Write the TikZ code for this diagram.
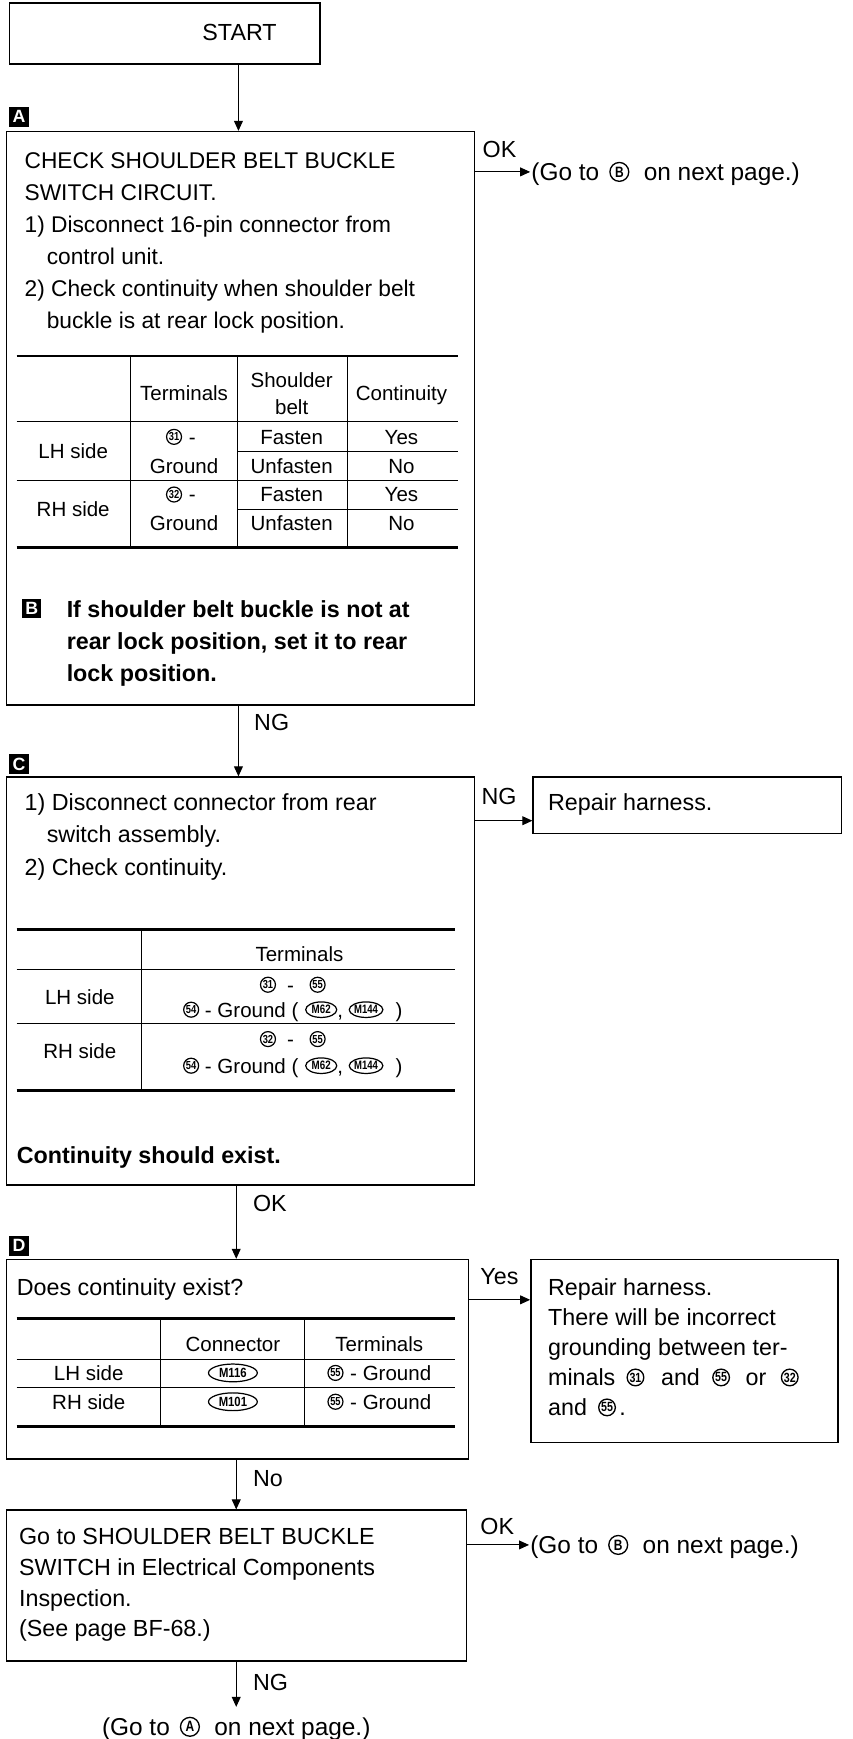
\documentclass[tikz,border=0pt]{standalone}
\usepackage{graphicx}
\usepackage{fontspec}
\setmainfont{Liberation Sans}
\usetikzlibrary{arrows.meta,shapes.geometric}
\newcommand\fn{\fontsize{21}{25}\selectfont}
\newcommand\fa{\fontsize{20.5}{25}\selectfont}
\newcommand\fg{\fontsize{22}{25}\selectfont}
\newcommand\ftab{\fontsize{18.5}{22}\selectfont}
\newcommand\fbd{\bfseries\fontsize{21}{25}\selectfont}
% circled number in tables
\newcommand\cn[1]{\tikz[baseline={([yshift=-6.6pt]cnx.center)}]\node[draw,circle,anchor=center,line width=1.1pt,inner sep=0pt,minimum size=13.5pt,text=black,font=\bfseries\fontsize{10.5}{10.5}\selectfont](cnx){\scalebox{0.8}[1]{#1}};}
% circled number in body text
\newcommand\cnb[1]{\tikz[baseline={([yshift=-7.5pt]cbx.center)}]\node[draw,circle,anchor=center,line width=1.2pt,inner sep=0pt,minimum size=15pt,text=black,font=\bfseries\fontsize{12}{12}\selectfont](cbx){\scalebox{0.8}[1]{#1}};}
% circled letter
\newcommand\cl[1]{\tikz[baseline={([yshift=-7.8pt]clx.center)}]\node[draw,circle,anchor=center,line width=1.2pt,inner sep=0pt,minimum size=17pt,text=black,font=\bfseries\fontsize{13.5}{13.5}\selectfont](clx){\scalebox{0.8}[1]{#1}};}
% oval connector mark: text, width, height, font size, horizontal scale
\newcommand\mc[5]{\tikz[baseline={([yshift=-6.6pt]mcx.center)}]\node[draw,ellipse,anchor=center,line width=1.1pt,inner sep=0pt,minimum height=#3,minimum width=#2,text=black,font=\bfseries\fontsize{#4}{#4}\selectfont](mcx){\scalebox{#5}[1]{#1}};}
\begin{document}
\begin{tikzpicture}[x=1pt,y=-1pt,
 box/.style={draw,line width=1.3pt,inner sep=0pt,anchor=north west},
 mk/.style={fill=black,text=white,inner sep=0pt,minimum size=18pt,anchor=north west,font=\bfseries\fontsize{16}{16}\selectfont},
 tx/.style={anchor=base west,inner sep=0pt,font=\fa},
 tc/.style={anchor=base west,inner sep=0pt,font=\fn},
 tg/.style={anchor=base west,inner sep=0pt,font=\fg},
 bd/.style={anchor=base west,inner sep=0pt,font=\fbd},
 tb/.style={anchor=base,inner sep=0pt,font=\ftab},
 thk/.style={line width=2.6pt},
 thn/.style={line width=0.9pt},
 arr/.style={line width=0.9pt,-{Triangle[length=9pt,width=8pt]}}]
\useasboundingbox (0,0) rectangle (769,1568);
\fill[white] (0,0) rectangle (769,1568);
% x positions of the vertical connectors
\coordinate (xa) at (215,0);
\coordinate (xb) at (213,0);
% START
\node[box,minimum width=280pt,minimum height=55pt] (start) at (8,2) {};
\node[anchor=base,inner sep=0pt,font=\fn] (startT) at (216,36.5) {START};
% ---------- A ----------
\node[mk] (mA) at (8,96) {A};
\node[box,minimum width=422pt,minimum height=517pt] (A) at (5,118) {};
\draw[arr] (start.south -| xa) -- (A.north -| xa);
\node[tx] (a1) at (22,151.5) {CHECK SHOULDER BELT BUCKLE};
\node[tx] (a2) at (22,180.5) {SWITCH CIRCUIT.};
\node[tx] (a3) at (22,209.5) {1) Disconnect 16-pin connector from};
\node[tx] (a4) at (42,238.5) {control unit.};
\node[tx] (a5) at (22,267.5) {2) Check continuity when shoulder belt};
\node[tx] (a6) at (42,296.5) {buckle is at rear lock position.};
\node[tc] (okA) at (435,142) {OK};
\coordinate (okAend) at (478,155);
\draw[arr] (A.east |- okAend) -- (okAend);
\node[tg] (gbA) at (479,162.8) {(Go to\hspace{9pt}\cl{B}\hspace{13pt}on next page.)};
% table A
\draw[thk] (15,321) -- (413,321);
\draw[thk] (15,494) -- (413,494);
\draw[thn] (118,321) -- (118,494) (214,321) -- (214,494) (313,321) -- (313,494);
\draw[line width=1.1pt] (15,380) -- (413,380);
\draw[thn] (214,407) -- (413,407) (15,433) -- (413,433) (214,459) -- (413,459);
\node[tb] (tA1) at (166,361.5) {Terminals};
\node[tb] (tA2) at (263,349.5) {Shoulder};
\node[tb] (tA3) at (263,373.5) {belt};
\node[tb] (tA4) at (362,361.5) {Continuity};
\node[tb] (tA5) at (66,413.5) {LH side};
\node[tb] (tA6) at (163,400.5) {\cn{31}\hspace{6pt}-};
\node[tb] (tA7) at (166,426.5) {Ground};
\node[tb] (tA8) at (263,400.5) {Fasten};
\node[tb] (tA9) at (362,400.5) {Yes};
\node[tb] (tA10) at (263,426.5) {Unfasten};
\node[tb] (tA11) at (362,426.5) {No};
\node[tb] (tA12) at (66,465.5) {RH side};
\node[tb] (tA13) at (163,452.5) {\cn{32}\hspace{6pt}-};
\node[tb] (tA14) at (166,478.5) {Ground};
\node[tb] (tA15) at (263,452.5) {Fasten};
\node[tb] (tA16) at (362,452.5) {Yes};
\node[tb] (tA17) at (263,478.5) {Unfasten};
\node[tb] (tA18) at (362,478.5) {No};
% B note
\node[mk,minimum size=17pt] (mB) at (20,540) {B};
\node[bd] (b1) at (60,556.5) {If shoulder belt buckle is not at};
\node[bd] (b2) at (60,585.5) {rear lock position, set it to rear};
\node[bd] (b3) at (60,614.5) {lock position.};
% ---------- C ----------
\node[mk] (mC) at (8,680) {C};
\node[box,minimum width=422pt,minimum height=368pt] (C) at (5,700) {};
\draw[arr] (A.south -| xa) -- (C.north -| xa);
\node[tc] (ngA) at (229,658.5) {NG};
\node[tc] (c1) at (22,730.5) {1) Disconnect connector from rear};
\node[tc] (c2) at (42,759.5) {switch assembly.};
\node[tc] (c3) at (22,789.5) {2) Check continuity.};
\node[box,minimum width=278pt,minimum height=51pt] (rep1) at (480,700) {};
\node[tc] (r1) at (494,730.5) {Repair harness.};
\node[tc] (ngC) at (434,725.5) {NG};
\coordinate (yc) at (0,740);
\draw[arr] (C.east |- yc) -- (rep1.west |- yc);
% table C
\draw[thk] (15,838) -- (410,838);
\draw[thk] (15,983) -- (410,983);
\draw[thn] (128,838) -- (128,983);
\draw[thn] (15,874) -- (410,874) (15,923) -- (410,923);
\node[tb] (tC1) at (270,866.5) {Terminals};
\node[tb] (tC2) at (72,905.5) {LH side};
\node[tb] (tC3) at (264,894.5) {\cn{31}\hspace{10pt}-\hspace{14pt}\cn{55}};
\node[tb] (tC4) at (264,917) {\cn{54} - Ground (\hspace{6pt}\mc{M62}{28pt}{14pt}{11}{0.8},\hspace{5pt}\mc{M144}{28pt}{14pt}{11}{0.78}\hspace{11pt})};
\node[tb] (tC5) at (72,954.5) {RH side};
\node[tb] (tC6) at (264,943.5) {\cn{32}\hspace{10pt}-\hspace{14pt}\cn{55}};
\node[tb] (tC7) at (264,967.5) {\cn{54} - Ground (\hspace{6pt}\mc{M62}{28pt}{14pt}{11}{0.8},\hspace{5pt}\mc{M144}{28pt}{14pt}{11}{0.78}\hspace{11pt})};
\node[bd] (c4) at (15,1049.5) {Continuity should exist.};
% ---------- D ----------
\node[mk] (mD) at (8,1114) {D};
\node[box,minimum width=417pt,minimum height=180pt] (D) at (5,1135) {};
\draw[arr] (C.south -| xb) -- (D.north -| xb);
\node[tc] (okC) at (228,1092.5) {OK};
\node[tc] (d1) at (15,1168.5) {Does continuity exist?};
\node[box,minimum width=277pt,minimum height=165pt] (rep2) at (478,1135) {};
\node[tc] (yesD) at (433,1158.5) {Yes};
\coordinate (yd) at (0,1172);
\draw[arr] (D.east |- yd) -- (rep2.west |- yd);
\node[tc] (r2) at (494,1168.5) {Repair harness.};
\node[tc] (r3) at (494,1195.5) {There will be incorrect};
\node[tc] (r4) at (494,1222.5) {grounding between ter-};
\node[tc] (r5) at (494,1249.5) {minals\hspace{10pt}\cnb{31}\hspace{15pt}and\hspace{11pt}\cnb{55}\hspace{14pt}or\hspace{13pt}\cnb{32}};
\node[tc] (r6) at (494,1276.5) {and\hspace{10pt}\cnb{55}\hspace{3pt}.};
% table D
\draw[thk] (15,1189) -- (410,1189);
\draw[thk] (15,1286) -- (410,1286);
\draw[thn] (145,1189) -- (145,1286) (275,1189) -- (275,1286);
\draw[thn] (15,1226) -- (410,1226) (15,1251) -- (410,1251);
\node[tb] (tD1) at (210,1218.5) {Connector};
\node[tb] (tD2) at (342,1218.5) {Terminals};
\node[tb] (tD3) at (80,1244.5) {LH side};
\node[tb] (tD4) at (210,1244.5) {\mc{M116}{44pt}{16pt}{12}{0.85}};
\node[tb] (tD5) at (342,1244.5) {\cn{55}\hspace{6pt}- Ground};
\node[tb] (tD6) at (80,1270.5) {RH side};
\node[tb] (tD7) at (210,1270.5) {\mc{M101}{44pt}{16pt}{12}{0.85}};
\node[tb] (tD8) at (342,1270.5) {\cn{55}\hspace{6pt}- Ground};
% ---------- E ----------
\node[box,minimum width=415pt,minimum height=136pt] (E) at (5,1361) {};
\draw[arr] (D.south -| xb) -- (E.north -| xb);
\node[tc] (noD) at (228,1340.5) {No};
\node[tc] (e1) at (17,1392.5) {Go to SHOULDER BELT BUCKLE};
\node[tc] (e2) at (17,1420.5) {SWITCH in Electrical Components};
\node[tc] (e3) at (17,1448.5) {Inspection.};
\node[tc] (e4) at (17,1475.5) {(See page BF-68.)};
\node[tc] (okE) at (433,1383.5) {OK};
\coordinate (okEend) at (477,1393);
\draw[arr] (E.east |- okEend) -- (okEend);
\node[tg] (gbE) at (478,1400.8) {(Go to\hspace{9pt}\cl{B}\hspace{13pt}on next page.)};
\coordinate (endA) at (213,1539);
\draw[arr] (E.south -| xb) -- (endA);
\node[tc] (ngE) at (228,1524.5) {NG};
\node[anchor=base,inner sep=0pt,font=\fg] (gaE) at (213,1564.8) {(Go to\hspace{9pt}\cl{A}\hspace{13pt}on next page.)};
\end{tikzpicture}
\end{document}
